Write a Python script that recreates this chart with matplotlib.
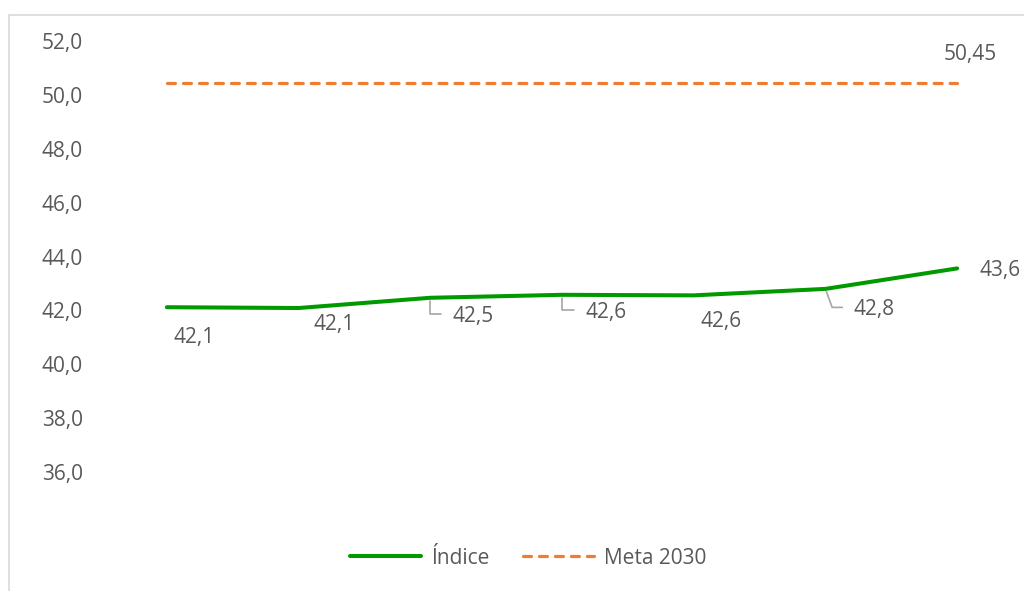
#Índice vs Meta 2030

import matplotlib.pyplot as plt
from matplotlib.patches import Rectangle
from matplotlib.ticker import FuncFormatter

#Datos
anos = ["1", "2", "3", "4", "5", "6", "7"]
indice = [42.12, 42.09, 42.47, 42.58, 42.56, 42.80, 43.56]
meta = [50.45] * 7
meta_label = "50,45"

#Posicion de las etiquetas (pixeles respecto al punto) y si llevan linea guia
offsets = [(7, -30), (15, -16), (22, -19), (23, -18), (7, -26), (28, -21), (22, -2)]
guias = [None, None, 90, 90, None, 110, None]

verde = "#009A00"
naranja = "#ED7D31"
gris = "#595959"

plt.rcParams['font.family'] = ['Open Sans', 'DejaVu Sans']
plt.rcParams['font.size'] = 15

fig = plt.figure(figsize=(10.24, 5.91), dpi=100)
ax = fig.add_axes([101/1024, 65/591, 922/1024, 485/591])

x = list(range(len(anos)))
ax.plot(x, indice, color=verde, lw=2.9, solid_capstyle='round', label="Índice")
ax.plot(x, meta, color=naranja, lw=2.3, dashes=(2.5, 2.5), dash_capstyle='round', label="Meta 2030")

#Etiquetas de datos
for i, v in enumerate(indice):
    txt = f"{v:.1f}".replace('.', ',')
    dx, dy = offsets[i]
    if guias[i] is None:
        ax.annotate(txt, (i, v), xytext=(dx, dy), textcoords='offset pixels',
                    ha='left', va='center', color=gris)
    else:
        ax.annotate(txt, (i, v), xytext=(dx, dy), textcoords='offset pixels',
                    ha='left', va='center', color=gris,
                    arrowprops=dict(arrowstyle='-', color='#A6A6A6', lw=1.2,
                                    connectionstyle=f"angle,angleA=0,angleB={guias[i]},rad=0",
                                    relpos=(0, 0.62), shrinkA=6, shrinkB=2))

ax.annotate(meta_label, (x[-1], meta[-1]), xytext=(-14, 28), textcoords='offset pixels',
            ha='left', va='center', color=gris)

#Ejes
ax.set_xlim(-0.5, len(anos) - 0.5)
ax.set_ylim(34, 52)
ax.set_yticks([36, 38, 40, 42, 44, 46, 48, 50, 52])
ax.yaxis.set_major_formatter(FuncFormatter(lambda v, p: f"{v:.1f}".replace('.', ',')))
ax.set_xticks([])
ax.tick_params(axis='y', length=0, pad=13, colors=gris)
for s in ax.spines.values():
    s.set_visible(False)

#Leyenda
fig.legend(loc='center', bbox_to_anchor=(528/1024, 1 - 558/591), ncol=2, frameon=False,
           handlelength=3.4, handletextpad=0.5, columnspacing=1.6, labelcolor=gris)

#Borde del grafico
fig.patches.append(Rectangle((9/1024, -0.02), 1.1, 1.02 - 15/591, transform=fig.transFigure,
                             fill=False, edgecolor='#D9D9D9', lw=1.2, figure=fig))

fig.savefig("out.png")
